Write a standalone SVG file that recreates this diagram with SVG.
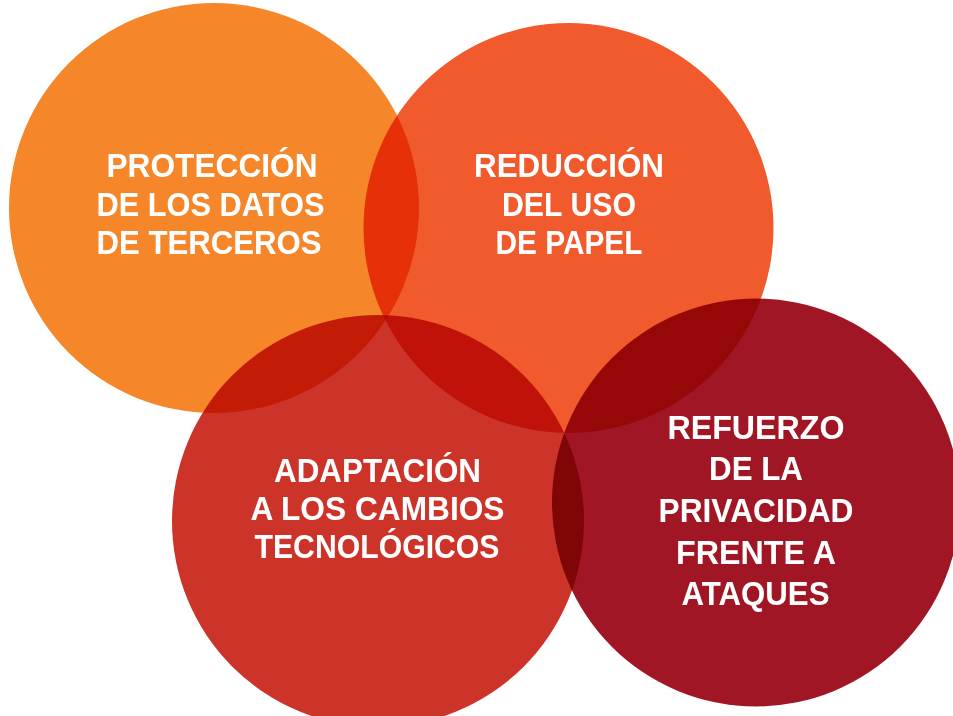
<svg xmlns="http://www.w3.org/2000/svg" width="953" height="716" viewBox="0 0 953 716">
<style>
.c{mix-blend-mode:multiply}
.t{font-family:"Liberation Sans",Arial,sans-serif;font-weight:bold;font-size:33px;fill:#ffffff;text-anchor:middle}
</style>
<rect x="0" y="0" width="953" height="716" fill="#ffffff"/>
<g id="node-proteccion">
<circle class="c" cx="214" cy="208" r="205" fill="#F5862A"/>
<text class="t"><tspan x="212" y="177" textLength="211" lengthAdjust="spacingAndGlyphs">PROTECCIÓN</tspan></text>
<text class="t"><tspan x="210.5" y="215.5" textLength="228" lengthAdjust="spacingAndGlyphs">DE LOS DATOS</tspan></text>
<text class="t"><tspan x="209" y="254" textLength="225" lengthAdjust="spacingAndGlyphs">DE TERCEROS</tspan></text>
</g>
<g id="node-reduccion">
<circle class="c" cx="568.5" cy="228" r="205" fill="#F05A2C"/>
<text class="t"><tspan x="569" y="177" textLength="190" lengthAdjust="spacingAndGlyphs">REDUCCIÓN</tspan></text>
<text class="t"><tspan x="569" y="215.5" textLength="134" lengthAdjust="spacingAndGlyphs">DEL USO</tspan></text>
<text class="t"><tspan x="569" y="254" textLength="147" lengthAdjust="spacingAndGlyphs">DE PAPEL</tspan></text>
</g>
<g id="node-adaptacion">
<circle class="c" cx="378" cy="521" r="206" fill="#CC3329"/>
<text class="t"><tspan x="377.5" y="482" textLength="207" lengthAdjust="spacingAndGlyphs">ADAPTACIÓN</tspan></text>
<text class="t"><tspan x="377.5" y="520" textLength="254" lengthAdjust="spacingAndGlyphs">A LOS CAMBIOS</tspan></text>
<text class="t"><tspan x="377" y="558" textLength="245" lengthAdjust="spacingAndGlyphs">TECNOLÓGICOS</tspan></text>
</g>
<g id="node-refuerzo">
<circle class="c" cx="756" cy="502.5" r="204" fill="#A01624"/>
<text class="t"><tspan x="756" y="438.5" textLength="177" lengthAdjust="spacingAndGlyphs">REFUERZO</tspan></text>
<text class="t"><tspan x="756" y="480" textLength="94" lengthAdjust="spacingAndGlyphs">DE LA</tspan></text>
<text class="t"><tspan x="756" y="522" textLength="195" lengthAdjust="spacingAndGlyphs">PRIVACIDAD</tspan></text>
<text class="t"><tspan x="756" y="563.5" textLength="160" lengthAdjust="spacingAndGlyphs">FRENTE A</tspan></text>
<text class="t"><tspan x="755.5" y="604.5" textLength="148" lengthAdjust="spacingAndGlyphs">ATAQUES</tspan></text>
</g>
</svg>
